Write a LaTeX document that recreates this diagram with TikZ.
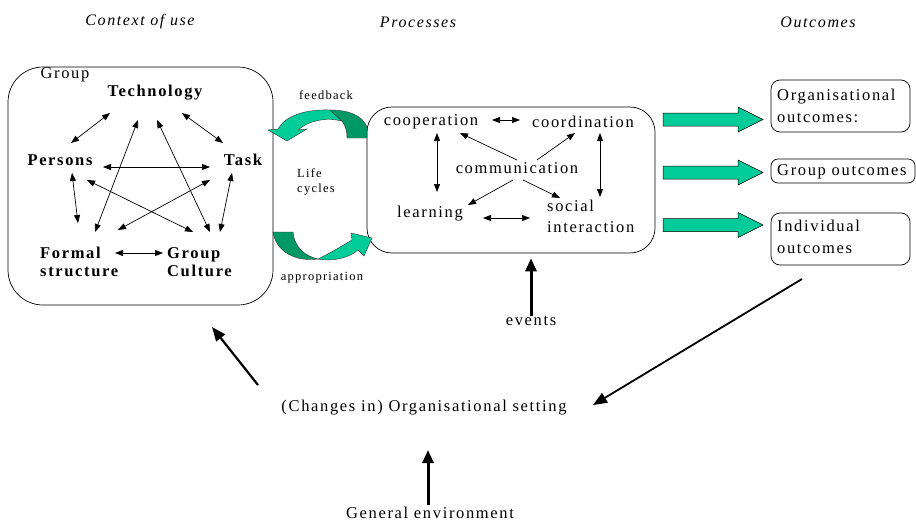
\documentclass[tikz,border=0pt]{standalone}
\usepackage{fontspec}
\setmainfont{Liberation Serif}[LetterSpace=10]
\usetikzlibrary{arrows.meta}
\definecolor{lgreen}{RGB}{0,204,153}
\definecolor{dgreen}{RGB}{0,153,102}
\begin{document}
\begin{tikzpicture}[x=1pt,y=-1pt,
  txt/.style={font=\fontsize{16.5}{18}\selectfont, inner sep=0pt},
  btxt/.style={font=\fontsize{16.5}{18}\selectfont\bfseries, inner sep=0pt},
  smalltxt/.style={font=\fontsize{12.5}{15}\selectfont, inner sep=0pt},
  titletxt/.style={font=\fontsize{16}{18}\selectfont\itshape, inner sep=0pt},
  rbox/.style={draw, line width=0.7pt, inner sep=0pt},
  arr/.style={{Triangle[length=8pt,width=6pt]}-{Triangle[length=8pt,width=6pt]}, line width=0.7pt},
  parr/.style={-{Triangle[length=8pt,width=6pt]}, line width=0.7pt},
  bigarr/.style={-{Triangle[length=13pt,width=11pt]}, line width=3pt},
  diagarr/.style={-{Triangle[length=14pt,width=11pt]}, line width=2.2pt},
  greenblock/.style={fill=lgreen, draw=black, line width=0.5pt},
  ltband/.style={fill=lgreen, draw=black!80, line width=0.4pt},
  dkband/.style={fill=dgreen, draw=black!80, line width=0.4pt}]
\useasboundingbox (0,0) rectangle (916,525);

% titles
\node[titletxt] (t1) at (140,22) {Context of use};
\node[titletxt] (t2) at (418,22) {Processes};
\node[titletxt] (t3) at (818,22) {Outcomes};

% group box
\node[rbox, rounded corners=35pt, minimum width=265pt, minimum height=238pt] (grp) at (140.5,186) {};
\node[txt] (grplbl) at (65,75) {Group};
\node[btxt] (tech) at (155,93) {Technology};
\node[btxt] (pers) at (60,160) {Persons};
\node[btxt] (task) at (243,160) {Task};
\node[btxt, align=left, anchor=west] (formal) at (40,262) {Formal\\structure};
\node[btxt, align=left, anchor=west] (gcult) at (167,262) {Group\\Culture};

\foreach \a/\b in {{(110,113)}/{(71,143)}, {(182,113)}/{(223,143)}, {(103,167)}/{(210,167)},
  {(72,173)}/{(78,223)}, {(232,173)}/{(220,232)}, {(95,232)}/{(138,120)},
  {(210,232)}/{(157,120)}, {(87,180)}/{(193,232)}, {(210,180)}/{(118,230)},
  {(115,253)}/{(163,253)}}
  \draw[arr] \a -- \b;

% processes box
\node[rbox, rounded corners=25pt, minimum width=288pt, minimum height=146pt] (proc) at (511,180) {};
\node[txt] (coop) at (431,122) {cooperation};
\node[txt] (coord) at (583,122) {coordination};
\node[txt] (comm) at (517,168) {communication};
\node[txt] (learn) at (430,214) {learning};
\node[txt, align=left, anchor=west, font=\fontsize{16.5}{21}\selectfont] (social) at (547,216) {social\\interaction};

\draw[arr] (492,120) -- (520,120);
\draw[arr] (437,133) -- (437,192);
\draw[arr] (600,133) -- (600,197);
\draw[arr] (483,218) -- (530,218);
\draw[parr] (517,160) -- (460,133);
\draw[parr] (537,160) -- (575,133);
\draw[parr] (513,180) -- (468,205);
\draw[parr] (523,180) -- (560,198);

% feedback / appropriation
\node[smalltxt] (fb) at (326,95) {feedback};
\node[smalltxt, align=left, anchor=west] (life) at (297,182) {Life\\cycles};
\node[smalltxt] (appr) at (322,278) {appropriation};

% top curved arrow (feedback)
\draw[ltband] (330,110) .. controls (305,109) and (285,116) .. (278,129) -- (268,130) -- (287,141)
  -- (307,129) -- (298,130) .. controls (308,121) and (325,117) .. (342,121) -- cycle;
\draw[dkband] (347,138) -- (367,138) -- (367,127) .. controls (362,115) and (348,110) .. (330,110)
  -- (342,121) .. controls (346,126) and (347,132) .. (347,138) -- cycle;

% bottom curved arrow (appropriation)
\draw[dkband] (273,232) -- (293,232) .. controls (294,246) and (304,256) .. (318,259)
  .. controls (296,262) and (276,252) .. (273,232) -- cycle;
\draw[ltband] (318,259) .. controls (335,262) and (350,257) .. (358,250) -- (364,256) -- (372,238)
  -- (351,233) -- (352,240) .. controls (342,246) and (330,253) .. (318,259) -- cycle;

% outcome boxes
\node[rbox, rounded corners=9pt, minimum width=139pt, minimum height=52pt] (org) at (840.5,106) {};
\node[txt, align=left, anchor=west, font=\fontsize{16.5}{22}\selectfont] (orgt) at (777,106) {Organisational\\outcomes:};
\node[rbox, rounded corners=7pt, minimum width=144pt, minimum height=24pt] (grpo) at (843,171) {};
\node[txt, anchor=west] (grpot) at (777,172) {Group outcomes};
\node[rbox, rounded corners=9pt, minimum width=139pt, minimum height=52pt] (ind) at (840.5,239) {};
\node[txt, align=left, anchor=west, font=\fontsize{16.5}{22}\selectfont] (indt) at (777,237) {Individual\\outcomes};

% green block arrows
\foreach \cy in {119.5,172.5,225}
  \draw[greenblock] (663,\cy-6.5) -- (738,\cy-6.5) -- (738,\cy-12.5) -- (763,\cy) -- (738,\cy+12.5)
    -- (738,\cy+6.5) -- (663,\cy+6.5) -- cycle;

% bottom part
\node[txt] (events) at (531,321) {events};
\draw[bigarr, shorten >=5pt] (events.north) -- (events.north |- proc.south);

\node[txt] (setting) at (424,408) {(Changes in) Organisational setting};
\node[txt] (genv) at (430,513) {General environment};
\draw[bigarr] (genv.north) ++(-2,-2) coordinate (genvtop) -- ++(0,-55) coordinate (genvtip);

\coordinate (s1) at (258,385);
\coordinate (s1tip) at (212,327);
\draw[diagarr] (s1) -- (s1tip);
\coordinate (o1) at (802,279);
\coordinate (o1tip) at (593,405);
\draw[-{Triangle[length=14pt,width=11pt]}, line width=1.8pt] (o1) -- (o1tip);
\end{tikzpicture}
\end{document}
